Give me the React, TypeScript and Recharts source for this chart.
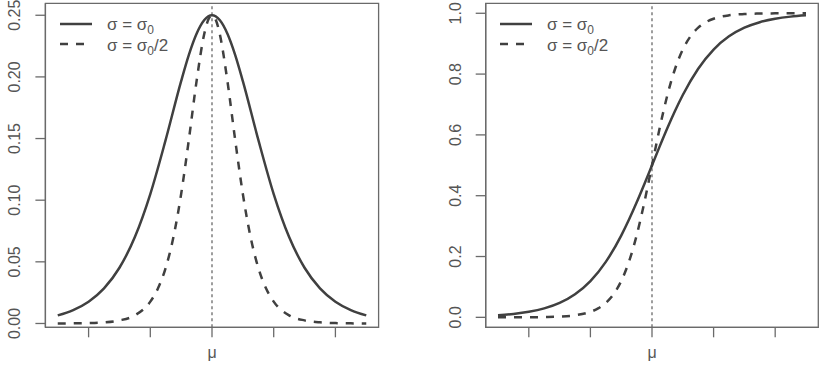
import React from 'react'
import { LineChart, Line, XAxis, YAxis, ReferenceLine, ReferenceArea, Legend } from 'recharts'

// x positions (in units of the tick spacing, μ = 0)
const X_SOLID = [-2.5, -2.25, -2, -1.75, -1.5, -1.25, -1, -0.75, -0.5, -0.375, -0.25, -0.125, 0,
  0.125, 0.25, 0.375, 0.5, 0.75, 1, 1.25, 1.5, 1.75, 2, 2.25, 2.5]
const X_DASHED = [-2.5, -2.25, -2, -1.75, -1.5, -1.25, -1, -0.875, -0.75, -0.625, -0.5, -0.375, -0.25, -0.125, -0.0625, 0,
  0.0625, 0.125, 0.25, 0.375, 0.5, 0.625, 0.75, 0.875, 1, 1.25, 1.5, 1.75, 2, 2.25, 2.5]

// left panel: density
const DENSITY_SOLID = [0.0066, 0.0109, 0.0177, 0.0285, 0.0452, 0.0701, 0.105, 0.1491, 0.1966, 0.2179, 0.235, 0.2461, 0.25,
  0.2461, 0.235, 0.2179, 0.1966, 0.1491, 0.105, 0.0701, 0.0452, 0.0285, 0.0177, 0.0109, 0.0066]
const DENSITY_DASHED = [0.0000, 0.0001, 0.0003, 0.0009, 0.0025, 0.0066, 0.0177, 0.0285, 0.0452, 0.0701, 0.105, 0.1491, 0.1966, 0.235, 0.2461, 0.25,
  0.2461, 0.235, 0.1966, 0.1491, 0.105, 0.0701, 0.0452, 0.0285, 0.0177, 0.0066, 0.0025, 0.0009, 0.0003, 0.0001, 0.0000]

// right panel: distribution function
const CDF_SOLID = [0.0067, 0.011, 0.018, 0.0293, 0.0474, 0.0759, 0.1192, 0.1824, 0.2689, 0.3208, 0.3775, 0.4378, 0.5,
  0.5622, 0.6225, 0.6792, 0.7311, 0.8176, 0.8808, 0.9241, 0.9526, 0.9707, 0.982, 0.989, 0.9933]
const CDF_DASHED = [0.0000, 0.0001, 0.0003, 0.0009, 0.0025, 0.0067, 0.018, 0.0293, 0.0474, 0.0759, 0.1192, 0.1824, 0.2689, 0.3775, 0.4378, 0.5,
  0.5622, 0.6225, 0.7311, 0.8176, 0.8808, 0.9241, 0.9526, 0.9707, 0.982, 0.9933, 0.9975, 0.9991, 0.9997, 0.9999, 1.0]

const X_TICKS = [-2, -1, 0, 1, 2]
const X_DOMAIN: [number, number] = [-2.7, 2.7]
const DENSITY_TICKS = [0, 0.05, 0.1, 0.15, 0.2, 0.25]
const DENSITY_DOMAIN: [number, number] = [-0.0031, 0.2597]
const CDF_TICKS = [0, 0.2, 0.4, 0.6, 0.8, 1]
const CDF_DOMAIN: [number, number] = [-0.0328, 1.0328]

const FONT = '"Liberation Sans", Arial, sans-serif'
const LINE = '#404040'
const AXIS = '#6a6a6a'
const TEXT = '#555'
const DASH = '8 8'

const zip = (xs: number[], ys: number[]) => xs.map((x, i) => ({ x, y: ys[i] }))

function YTick({ x, y, payload, digits }: any) {
  const bx = x - 13
  return (
    <text x={bx} y={y} transform={`rotate(-90 ${bx} ${y})`} textAnchor="middle"
      fontSize={16} fontFamily={FONT} fill={TEXT}>
      {payload.value.toFixed(digits)}
    </text>
  )
}

function XTick({ x, y, payload }: any) {
  if (payload.value !== 0) return null
  return (
    <text x={x} y={y + 19} textAnchor="middle" fontSize={16} fontFamily={FONT} fill={TEXT}>μ</text>
  )
}

function LegendBox() {
  return (
    <svg width={150} height={46} style={{ display: 'block', overflow: 'visible' }}>
      <line x1={0} x2={32} y1={6} y2={6} stroke={LINE} strokeWidth={2.5} />
      <text x={47} y={12} fontSize={17} fontFamily={FONT} fill={TEXT}>
        σ = σ<tspan dy={4} fontSize={12}>0</tspan>
      </text>
      <line x1={0} x2={32} y1={26} y2={26} stroke={LINE} strokeWidth={2.5} strokeDasharray={DASH} />
      <text x={47} y={33} fontSize={17} fontFamily={FONT} fill={TEXT}>
        σ = σ<tspan dy={4} fontSize={12}>0</tspan><tspan dy={-4}>/2</tspan>
      </text>
    </svg>
  )
}

interface PanelProps {
  left: number
  width: number
  yAxisWidth: number
  marginRight: number
  solid: number[]
  dashed: number[]
  yTicks: number[]
  yDomain: [number, number]
  digits: number
}

function Panel({ left, width, yAxisWidth, marginRight, solid, dashed, yTicks, yDomain, digits }: PanelProps) {
  return (
    <div style={{ position: 'absolute', left, top: 0 }}>
      <LineChart width={width} height={377} margin={{ top: 3.3, right: marginRight, left: 0, bottom: 0 }}>
        <XAxis type="number" dataKey="x" domain={X_DOMAIN} ticks={X_TICKS} allowDataOverflow
          height={49.7} tickSize={10} stroke={AXIS} strokeWidth={1.3} tick={<XTick />} interval={0} />
        <YAxis type="number" domain={yDomain} ticks={yTicks} allowDataOverflow width={yAxisWidth}
          tickSize={10} stroke={AXIS} strokeWidth={1.3} tick={<YTick digits={digits} />} interval={0} />
        <ReferenceArea x1={X_DOMAIN[0]} x2={X_DOMAIN[1]} y1={yDomain[0]} y2={yDomain[1]}
          fill="none" stroke={AXIS} strokeWidth={1.3} ifOverflow="visible" />
        <ReferenceLine x={0} stroke={AXIS} strokeWidth={1.3} strokeDasharray="3 3" />
        <Line data={zip(X_SOLID, solid)} dataKey="y" name="σ = σ0" type="monotone" stroke={LINE}
          strokeWidth={2.5} dot={false} isAnimationActive={false} />
        <Line data={zip(X_DASHED, dashed)} dataKey="y" name="σ = σ0/2" type="monotone" stroke={LINE}
          strokeWidth={2.5} strokeDasharray={DASH} dot={false} isAnimationActive={false} />
        <Legend content={<LegendBox />} layout="horizontal" verticalAlign="middle" align="center"
          wrapperStyle={{ position: 'absolute', left: yAxisWidth + 14.5, top: 18, width: 150, height: 46 }} />
      </LineChart>
    </div>
  )
}

export default function App() {
  return (
    <div style={{ position: 'absolute', left: 0, top: 0, width: 826, height: 377, background: '#fff' }}>
      <Panel left={0} width={400} yAxisWidth={45.4} marginRight={21.4}
        solid={DENSITY_SOLID} dashed={DENSITY_DASHED} yTicks={DENSITY_TICKS} yDomain={DENSITY_DOMAIN} digits={2} />
      <Panel left={420} width={406} yAxisWidth={65.7} marginRight={7.7}
        solid={CDF_SOLID} dashed={CDF_DASHED} yTicks={CDF_TICKS} yDomain={CDF_DOMAIN} digits={1} />
    </div>
  )
}
